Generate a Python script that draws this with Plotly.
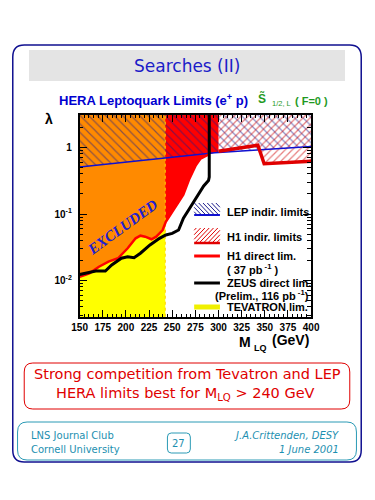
import numpy as np
import plotly.graph_objects as go

# ---------------- data ----------------
mass_ticks = [150, 175, 200, 225, 250, 275, 300, 325, 350, 375, 400]
mass_tick_labels = [str(v) for v in mass_ticks]
lam_tickvals = [0.01, 0.1, 1]
lam_ticktext = ["<b>10<sup>-2</sup></b>", "<b>10<sup>-1</sup></b>", "<b>1</b>"]

tevatron_limit = 242.5  # GeV

h1_direct_mass = [150, 160.6, 170.9, 181.2, 191.5, 201.9, 210.5, 215.7, 220.8, 227.6,
                  232.8, 239.7, 243.1, 250, 256.9, 262, 268.6, 275.5, 280.6, 287.4, 289.5, 300]
h1_direct_lam = [0.0114, 0.0128, 0.0161, 0.0192, 0.0216, 0.0305, 0.0431, 0.0472, 0.0456, 0.0417,
                 0.0456, 0.0574, 0.0766, 0.108, 0.153, 0.196, 0.34, 0.54, 0.68, 0.76, 0.79, 0.86]

zeus_mass = [150, 157.2, 167.5, 177.8, 184.7, 195.1, 201.9, 208.8, 215.7, 226, 236.3, 243.1,
             250, 256.9, 262.1, 268.9, 277.5, 284, 289.2, 290, 290]
zeus_lam = [0.0123, 0.0128, 0.0139, 0.0139, 0.0171, 0.0216, 0.0228, 0.0220, 0.0257, 0.0342,
            0.0431, 0.0483, 0.0512, 0.0574, 0.0862, 0.122, 0.193, 0.264, 0.319, 0.36, 3.2]

lep_mass = [150, 227, 296, 350, 400]
lep_lam = [0.51, 0.656, 0.835, 0.933, 1.04]

h1_indirect_mass = [300, 342.5, 349.3, 400]
h1_indirect_lam = [0.877, 1.08, 0.571, 0.62]

X_RANGE = [150, 400]
LOG_Y_RANGE = [-2.549, 0.489]

# ---------------- geometry helpers ----------------
W, H = 375, 500


def fx(x):
    return x / W


def fy(y):
    return 1 - y / H


def rrect_path(x0, y0, x1, y1, r):
    def P(x, y):
        return f"{fx(x):.5f},{fy(y):.5f}"
    return (f"M{P(x0 + r, y0)} L{P(x1 - r, y0)} Q{P(x1, y0)} {P(x1, y0 + r)} "
            f"L{P(x1, y1 - r)} Q{P(x1, y1)} {P(x1 - r, y1)} L{P(x0 + r, y1)} "
            f"Q{P(x0, y1)} {P(x0, y1 - r)} L{P(x0, y0 + r)} Q{P(x0, y0)} {P(x0 + r, y0)} Z")


def hatch_segments(x0, y0, x1, y1, spacing, direction):
    segs = []
    if direction == "\\":
        c = x0 - y1 + spacing / 2
        while c < x1 - y0:
            lo = max(y0, x0 - c)
            hi = min(y1, x1 - c)
            if hi > lo:
                segs.append((lo + c, lo, hi + c, hi))
            c += spacing
    else:
        c = x0 + y0 + spacing / 2
        while c < x1 + y1:
            lo = max(y0, c - x1)
            hi = min(y1, c - x0)
            if hi > lo:
                segs.append((c - lo, lo, c - hi, hi))
            c += spacing
    return segs


lam_top = 10 ** LOG_Y_RANGE[1] * 1.5
lam_bot = 10 ** LOG_Y_RANGE[0] / 1.5

RED = "#ff0000"
ORANGE = "#ff8a00"
YELLOW = "#ffff00"
NAVY = "#1a1a8c"
BLUE = "#1010d0"
SANS = "Liberation Sans, Arial, sans-serif"
NARROW = "Liberation Sans Narrow, Liberation Sans, Arial, sans-serif"
DEJAVU = "DejaVu Sans, Verdana, sans-serif"

fig = go.Figure()

# Tevatron exclusion (yellow)
fig.add_trace(go.Scatter(x=[X_RANGE[0], tevatron_limit, tevatron_limit, X_RANGE[0]],
                         y=[lam_bot, lam_bot, lam_top, lam_top], fill="toself",
                         fillcolor=YELLOW, line=dict(width=0), mode="lines",
                         hoverinfo="skip", showlegend=False))

# H1 direct exclusion (red)
fig.add_trace(go.Scatter(x=h1_direct_mass + [h1_direct_mass[-1], X_RANGE[0]],
                         y=h1_direct_lam + [lam_top, lam_top], fill="toself",
                         fillcolor=RED, line=dict(width=0), mode="lines",
                         hoverinfo="skip", showlegend=False))

# overlap H1 direct & Tevatron (orange)
m = np.array(h1_direct_mass)
l = np.log10(np.array(h1_direct_lam))
sel = m < tevatron_limit
lam_at_tev = 10 ** np.interp(tevatron_limit, m, l)
ox = list(m[sel]) + [tevatron_limit, tevatron_limit, X_RANGE[0]]
oy = list(10 ** l[sel]) + [lam_at_tev, lam_top, lam_top]
fig.add_trace(go.Scatter(x=ox, y=oy, fill="toself", fillcolor=ORANGE,
                         line=dict(width=0), mode="lines",
                         hoverinfo="skip", showlegend=False))

# LEP indirect (hatched \\)
fig.add_trace(go.Scatter(x=lep_mass + [X_RANGE[1], X_RANGE[0]],
                         y=lep_lam + [lam_top, lam_top], fill="toself",
                         fillcolor="rgba(0,0,0,0)",
                         fillpattern=dict(shape="\\", fgcolor=NAVY, bgcolor="rgba(0,0,0,0)",
                                          size=6, solidity=0.2),
                         line=dict(width=0), mode="lines",
                         hoverinfo="skip", showlegend=False))

# H1 indirect (hatched /)
fig.add_trace(go.Scatter(x=[h1_indirect_mass[0]] + h1_indirect_mass + [X_RANGE[1]],
                         y=[lam_top] + h1_indirect_lam + [lam_top], fill="toself",
                         fillcolor="rgba(0,0,0,0)",
                         fillpattern=dict(shape="/", fgcolor="#d00000", bgcolor="rgba(0,0,0,0)",
                                          size=5, solidity=0.25),
                         line=dict(width=0), mode="lines",
                         hoverinfo="skip", showlegend=False))

# Tevatron boundary line
fig.add_trace(go.Scatter(x=[tevatron_limit, tevatron_limit], y=[lam_bot, lam_top],
                         mode="lines", line=dict(color="#ffd000", width=1, dash="dot"),
                         hoverinfo="skip", showlegend=False))

# LEP line
fig.add_trace(go.Scatter(x=lep_mass, y=lep_lam, mode="lines",
                         line=dict(color=BLUE, width=1.5),
                         hoverinfo="skip", showlegend=False))
# H1 indirect line
fig.add_trace(go.Scatter(x=h1_indirect_mass, y=h1_indirect_lam, mode="lines",
                         line=dict(color="#e00000", width=3.5),
                         hoverinfo="skip", showlegend=False))
# H1 direct line
fig.add_trace(go.Scatter(x=h1_direct_mass[:-1], y=h1_direct_lam[:-1], mode="lines",
                         line=dict(color=RED, width=2.5),
                         hoverinfo="skip", showlegend=False))
# ZEUS direct line
fig.add_trace(go.Scatter(x=zeus_mass, y=zeus_lam, mode="lines",
                         line=dict(color="black", width=3),
                         hoverinfo="skip", showlegend=False))

# minor tick positions for the log axis
minor_lam = [k * 10.0 ** e for e in (-3, -2, -1, 0) for k in range(2, 10)]

fig.update_layout(
    width=W, height=H, autosize=False,
    margin=dict(l=0, r=0, t=0, b=0),
    paper_bgcolor="white", plot_bgcolor="white",
    xaxis=dict(domain=[fx(75), fx(317.5)], range=X_RANGE,
               tickmode="array", tickvals=mass_ticks,
               ticktext=[f"<b>{t}</b>" for t in mass_tick_labels],
               ticks="inside", ticklen=7, tickwidth=1, tickcolor="black",
               minor=dict(ticks="inside", dtick=5, ticklen=3.5, tickcolor="black", tickwidth=1),
               showline=True, linecolor="black", linewidth=1.5, mirror="allticks",
               showgrid=False, zeroline=False,
               tickfont=dict(family=NARROW, size=10, color="black")),
    yaxis=dict(domain=[fy(317), fy(115)], type="log", range=LOG_Y_RANGE,
               tickmode="array", tickvals=lam_tickvals, ticktext=lam_ticktext,
               ticks="inside", ticklen=8, tickwidth=1, tickcolor="black",
               minor=dict(ticks="inside", tickmode="array", tickvals=minor_lam,
                          ticklen=4, tickcolor="black", tickwidth=1),
               showline=True, linecolor="black", linewidth=1.5, mirror="allticks",
               showgrid=False, zeroline=False, ticklabelstandoff=4,
               tickfont=dict(family=SANS, size=10, color="black")),
)

shapes = []
# outer slide frame
shapes.append(dict(type="path", xref="paper", yref="paper", path=rrect_path(5, 45, 370, 462, 12),
                   line=dict(color="#101090", width=1.5), fillcolor="white", layer="below"))
# title banner
shapes.append(dict(type="rect", xref="paper", yref="paper", x0=fx(22), x1=fx(353), y0=fy(81), y1=fy(50),
                   line=dict(width=0), fillcolor="#e4e4e4", layer="below"))
# red conclusion box
shapes.append(dict(type="path", xref="paper", yref="paper", path=rrect_path(17, 363, 358, 409, 9),
                   line=dict(color="#e00000", width=1), fillcolor="white", layer="below"))
# footer box
shapes.append(dict(type="path", xref="paper", yref="paper", path=rrect_path(10, 422, 365, 460, 10),
                   line=dict(color="#2a9ab5", width=1), fillcolor="white", layer="below"))
shapes.append(dict(type="path", xref="paper", yref="paper", path=rrect_path(167, 433, 191, 453, 4),
                   line=dict(color="#2a9ab5", width=1), fillcolor="white", layer="below"))

# legend swatches
for (x0, y0, x1, y1) in hatch_segments(195, 203, 222, 214, 4.5, "\\"):
    shapes.append(dict(type="line", xref="paper", yref="paper", x0=fx(x0), y0=fy(y0), x1=fx(x1), y1=fy(y1),
                       line=dict(color=NAVY, width=1)))
shapes.append(dict(type="line", xref="paper", yref="paper", x0=fx(195), x1=fx(222), y0=fy(215), y1=fy(215),
                   line=dict(color=BLUE, width=2)))
for (x0, y0, x1, y1) in hatch_segments(195, 228, 222, 242, 4.5, "/"):
    shapes.append(dict(type="line", xref="paper", yref="paper", x0=fx(x0), y0=fy(y0), x1=fx(x1), y1=fy(y1),
                       line=dict(color="#e00000", width=1)))
shapes.append(dict(type="line", xref="paper", yref="paper", x0=fx(195), x1=fx(222), y0=fy(243), y1=fy(243),
                   line=dict(color="#e00000", width=2.5)))
shapes.append(dict(type="line", xref="paper", yref="paper", x0=fx(195), x1=fx(222), y0=fy(256), y1=fy(256),
                   line=dict(color=RED, width=3)))
shapes.append(dict(type="line", xref="paper", yref="paper", x0=fx(195), x1=fx(222), y0=fy(283), y1=fy(283),
                   line=dict(color="black", width=3)))
shapes.append(dict(type="line", xref="paper", yref="paper", x0=fx(195), x1=fx(222), y0=fy(307), y1=fy(307),
                   line=dict(color="#f0f000", width=5)))
fig.update_layout(shapes=shapes)

ann = []


def text(x, y, s, size, color, family=SANS, xanchor="center", angle=0):
    ann.append(dict(x=fx(x), y=fy(y), xref="paper", yref="paper", text=s, showarrow=False,
                    xanchor=xanchor, yanchor="middle", textangle=angle, borderpad=0,
                    font=dict(family=family, size=size, color=color)))


text(187.5, 66, "Searches (II)", 17, "#1c1cc8", family=DEJAVU)
text(52, 100, "<b>HERA Leptoquark Limits (e<sup>+</sup> p)</b>", 13, "#0000d0", xanchor="left")
text(266.5, 99, "<b>S\u0303</b>", 12, "#1f9a1f")
text(287, 104, "1/2, L", 7.5, "#1f9a1f")
text(318, 101, "<b>( F=0 )</b>", 11, "#1f9a1f")

# axis titles
text(43, 119, "<b>λ</b>", 14, "black")
text(248, 342, "<b>M</b>", 14, "black")
text(264, 348, "<b>LQ</b>", 9, "black")
text(296, 340, "<b>(GeV)</b>", 14, "black")

# EXCLUDED label
text(120, 227, "<b><i>EXCLUDED</i></b>", 15, "#2020d0", family="Liberation Serif, Times New Roman, serif",
     angle=-36)

# legend text
text(228, 212, "<b>LEP indir. limits</b>", 11, "black", xanchor="left")
text(228, 237, "<b>H1 indir. limits</b>", 11, "black", xanchor="left")
text(228, 256, "<b>H1 direct lim.</b>", 11, "black", xanchor="left")
text(228, 269, "<b>( 37 pb<sup> -1</sup> )</b>", 11, "black", xanchor="left")
text(228, 283, "<b>ZEUS direct lim.</b>", 11, "black", xanchor="left")
text(216, 295, "<b>(Prelim., 116 pb<sup> -1</sup>)</b>", 11, "black", xanchor="left")
text(228, 307, "<b>TEVATRON lim.</b>", 11, "black", xanchor="left")

# conclusion box
text(187.5, 374, "Strong competition from Tevatron and LEP", 14.5, "#e00000", family=DEJAVU)
text(186, 394, "HERA limits best for M<sub>LQ</sub> &gt; 240 GeV", 14.5, "#e00000", family=DEJAVU)

# footer
TEAL = "#1d8fb0"
text(23, 435, "LNS Journal Club", 10, TEAL, family=DEJAVU, xanchor="left")
text(23, 449, "Cornell University", 10, TEAL, family=DEJAVU, xanchor="left")
text(348, 435, "<i>J.A.Crittenden, DESY</i>", 10, TEAL, family=DEJAVU, xanchor="right")
text(348, 449, "<i>1 June 2001</i>", 10, TEAL, family=DEJAVU, xanchor="right")
text(179, 443, "27", 10, TEAL, family=DEJAVU)

fig.update_layout(annotations=ann)

post = ("document.body.style.margin='0';document.body.style.padding='0';"
        "document.body.style.overflow='hidden';")

fig.write_html("out.html",
               config={"displayModeBar": False},
               post_script=post)
